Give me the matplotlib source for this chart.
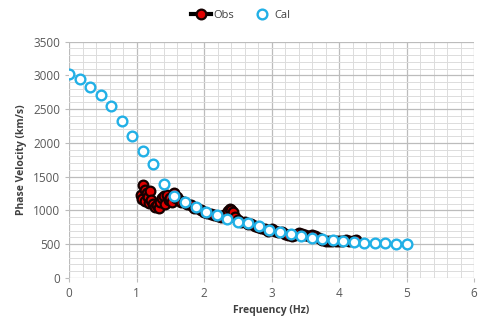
import matplotlib
matplotlib.use('Agg')
from matplotlib import pyplot as plt
from matplotlib.ticker import MultipleLocator

# calculated dispersion curve
cal_f = [i * 5 / 32 for i in range(33)]
cal_v = [3020, 2940, 2830, 2710, 2545, 2330, 2105, 1885, 1690, 1390, 1215,
         1130, 1055, 980, 930, 867, 831, 807, 762, 715, 684, 652, 620, 593,
         574, 555, 540, 533, 520, 518, 510, 505, 505]

# observed picks
obs_f = [1.07, 1.08, 1.10, 1.12, 1.13, 1.15, 1.17, 1.18, 1.20, 1.22, 1.25,
         1.28, 1.30, 1.33, 1.35, 1.38, 1.40, 1.42, 1.45, 1.48, 1.50, 1.53,
         1.56, 1.58, 1.60, 1.63, 1.66, 1.70, 1.75, 1.80, 1.85, 1.90, 1.95,
         2.00, 2.05, 2.10, 2.15, 2.20, 2.25, 2.30, 2.35, 2.38, 2.40, 2.43,
         2.46, 2.50, 2.55, 2.60, 2.65, 2.70, 2.75, 2.80, 2.85, 2.90, 2.95,
         3.00, 3.05, 3.10, 3.15, 3.20, 3.25, 3.30, 3.35, 3.40, 3.45, 3.50,
         3.55, 3.60, 3.65, 3.70, 3.75, 3.80, 3.85, 3.90, 3.95, 4.00, 4.05,
         4.10, 4.15, 4.20, 4.25]
obs_v = [1225, 1170, 1370, 1300, 1140, 1250, 1200, 1110, 1290, 1150, 1100,
         1050, 1080, 1040, 1120, 1180, 1210, 1100, 1230, 1160, 1190, 1130,
         1250, 1180, 1200, 1150, 1120, 1120, 1090, 1080, 1040, 1030, 1000,
         980, 960, 950, 930, 920, 900, 930, 990, 1020, 1010, 975,
         900, 850, 830, 820, 800, 790, 770, 750, 740, 720, 700,
         720, 700, 680, 680, 650, 640, 620, 640, 660, 650, 640,
         620, 640, 620, 590, 560, 540, 545, 550, 540, 545, 550,
         560, 550, 545, 555]

plt.rcParams['font.family'] = ['Open Sans', 'DejaVu Sans']

fig = plt.figure(figsize=(4.81, 3.23), dpi=100)
ax = fig.add_axes([0.1435, 0.140, 0.842, 0.731])

ax.plot(obs_f, obs_v, '-o', color='black', lw=3, ms=7, mfc='#e00000',
        mec='#150000', mew=1.6, label='Obs', zorder=3)
ax.plot(cal_f, cal_v, 'o', ls='none', ms=7, mfc='white', mec='#22b0e6',
        mew=1.7, label='Cal', zorder=4)

ax.set_xlim(0, 6)
ax.set_ylim(0, 3500)
ax.xaxis.set_major_locator(MultipleLocator(1))
ax.xaxis.set_minor_locator(MultipleLocator(0.2))
ax.yaxis.set_major_locator(MultipleLocator(500))
ax.yaxis.set_minor_locator(MultipleLocator(100))
ax.grid(which='major', color='#bcbcbc', lw=0.9)
ax.grid(which='minor', color='#dcdcdc', lw=0.7)
ax.set_axisbelow(True)
for s in ax.spines.values():
    s.set_visible(False)
ax.tick_params(which='major', length=3, color='#bcbcbc', labelsize=8.5,
               labelcolor='#595959')
ax.tick_params(which='minor', length=0)
ax.set_xlabel('Frequency (Hz)', fontsize=7.5, fontweight='bold', color='#404040')
ax.set_ylabel('Phase Velocity (km/s)', fontsize=7.5, fontweight='bold', color='#404040')

fig.legend(loc='upper center', bbox_to_anchor=(0.5, 1.0), ncol=2, frameon=False,
           fontsize=8, handlelength=1.8, handletextpad=0.2, columnspacing=1.6,
           labelcolor='#404040')

fig.savefig('out.png', dpi=100)
